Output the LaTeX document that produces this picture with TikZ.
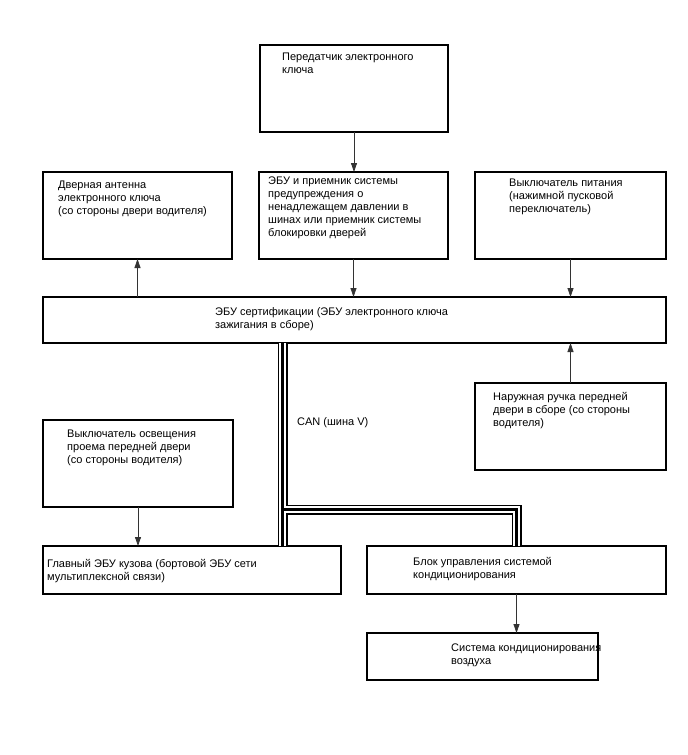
\documentclass[tikz,border=0pt]{standalone}
\usepackage{fontspec}
\setmainfont{Liberation Sans}
\usetikzlibrary{arrows.meta}

\begin{document}
\begin{tikzpicture}[x=1pt, y=-1pt,
  box/.style={draw, line width=1.1pt, inner sep=0pt, outer sep=0pt},
  txt/.style={font=\fontsize{11}{12.9}\selectfont, align=left, inner sep=0pt, anchor=north west},
  arr/.style={-{Triangle[length=9pt, width=6pt]}, line width=0.8pt, black!80}
]
\useasboundingbox (0,0) rectangle (688,755);
% ---------------- boxes ----------------
\node[box, minimum width=188pt, minimum height=87pt] (tx)     at (354,88.5)   {};
\node[box, minimum width=189pt, minimum height=87pt] (ant)    at (137.5,215.5) {};
\node[box, minimum width=189pt, minimum height=87pt] (ecu)    at (353.5,215.5) {};
\node[box, minimum width=191pt, minimum height=87pt] (pwr)    at (570.5,215.5) {};
\node[box, minimum width=623pt, minimum height=46pt] (cert)   at (354.5,320)   {};
\node[box, minimum width=191pt, minimum height=87pt] (handle) at (570.5,426.5) {};
\node[box, minimum width=190pt, minimum height=87pt] (door)   at (138,463.5)   {};
\node[box, minimum width=298pt, minimum height=48pt] (body)   at (192,570)     {};
\node[box, minimum width=299pt, minimum height=48pt] (acctrl) at (516.5,570)   {};
\node[box, minimum width=231pt, minimum height=47pt] (acsys)  at (482.5,656.5) {};

% ---------------- texts ----------------
\node[txt] (txT)     at ([shift={(22,8)}]tx.north west)       {Передатчик электронного\\ключа};
\node[txt] (antT)    at ([shift={(15,9)}]ant.north west)      {Дверная антенна\\электронного ключа\\(со стороны двери водителя)};
\node[txt] (ecuT)    at ([shift={(9,5)}]ecu.north west)       {ЭБУ и приемник системы\\предупреждения о\\ненадлежащем давлении в\\шинах или приемник системы\\блокировки дверей};
\node[txt] (pwrT)    at ([shift={(34,7)}]pwr.north west)      {Выключатель питания\\(нажимной пусковой\\переключатель)};
\node[txt] (certT)   at ([shift={(172,10)}]cert.north west)   {ЭБУ сертификации (ЭБУ электронного ключа\\зажигания в сборе)};
\node[txt] (handleT) at ([shift={(18,9)}]handle.north west)   {Наружная ручка передней\\двери в сборе (со стороны\\водителя)};
\node[txt] (doorT)   at ([shift={(24,10)}]door.north west)    {Выключатель освещения\\проема передней двери\\(со стороны водителя)};
\node[txt] (bodyT)   at ([shift={(4,13)}]body.north west)     {Главный ЭБУ кузова (бортовой ЭБУ сети\\мультиплексной связи)};
\node[txt] (acctrlT) at ([shift={(46,11)}]acctrl.north west)  {Блок управления системой\\кондиционирования};
\node[txt] (acsysT)  at ([shift={(84,11)}]acsys.north west)   {Система кондиционирования\\воздуха};

% ---------------- arrows ----------------
\draw[arr] (tx.south) -- (tx.south |- ecu.north);
\draw[arr] (ecu.south) -- (ecu.south |- cert.north);
\draw[arr] (ant.south |- cert.north) -- (ant.south);
\draw[arr] (pwr.south) -- (pwr.south |- cert.north);
\draw[arr] (handle.north) -- (handle.north |- cert.south);
\draw[arr] (door.south) -- (door.south |- body.north);
\draw[arr] (acctrl.south) -- (acctrl.south |- acsys.north);

% ---------------- CAN bus ----------------
\coordinate (bus) at (282.5,509.5);
\foreach \w/\c in {10/black, 6.2/white, 2.2/black}
  \draw[line width=\w pt, \c] (bus |- cert.south) -- (bus |- body.north)
    (bus) -- (bus -| acctrl.north) -- (acctrl.north);
\node[txt, anchor=west] (canT) at (297,423) {CAN (шина V)};
\end{tikzpicture}
\end{document}
